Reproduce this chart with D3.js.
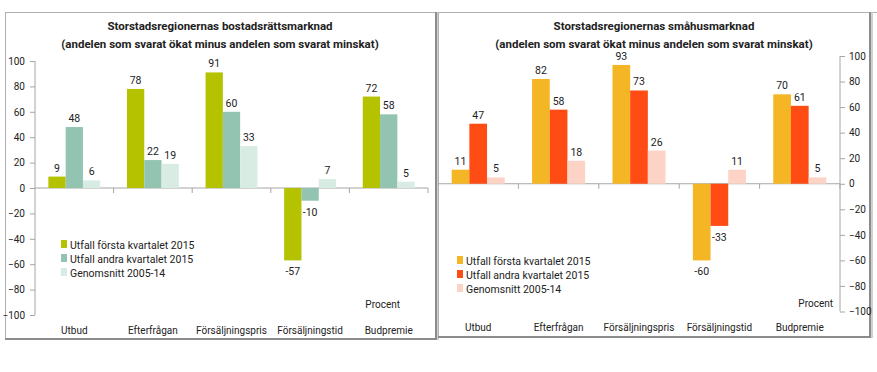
<!DOCTYPE html>
<meta charset="utf-8">
<style>
    body { margin: 0; background: #fff; }
    svg text { font-family: Roboto, "Open Sans", sans-serif; fill: #222; }
    .axis path, .axis line { stroke: #a6a6a6; }
    .axis text { font-size: 10px; fill: #222; }
</style>
<svg width="877" height="372"></svg>
<script src="https://cdn.jsdelivr.net/npm/d3@7"></script>
<script>

    var categories = ["Utbud", "Efterfrågan", "Försäljningspris", "Försäljningstid", "Budpremie"];
    var seriesNames = ["Utfall första kvartalet 2015", "Utfall andra kvartalet 2015", "Genomsnitt 2005-14"];

    // bostadsrätter
    var bostadQ1 = [9, 78, 91, -57, 72];
    var bostadQ2 = [48, 22, 60, -10, 58];
    var bostadAvg = [6, 19, 33, 7, 5];

    // småhus
    var smahusQ1 = [11, 82, 93, -60, 70];
    var smahusQ2 = [47, 58, 73, -33, 61];
    var smahusAvg = [5, 18, 26, 11, 5];

    var yTicks = [-100, -80, -60, -40, -20, 0, 20, 40, 60, 80, 100];

    var svg = d3.select("svg");

    // frame lines
    svg.append("line").attr("x1", 5).attr("x2", 877).attr("y1", 12.5).attr("y2", 12.5).attr("stroke", "#b0b0b0");
    function frame(x0, x1, y1) {
        svg.append("line").attr("x1", x0 + 0.5).attr("x2", x0 + 0.5).attr("y1", 12).attr("y2", y1).attr("stroke", "#b0b0b0");
        svg.append("line").attr("x1", x1).attr("x2", x1).attr("y1", 12).attr("y2", y1 + 1).attr("stroke", "#8c8c8c").attr("stroke-width", 2);
        svg.append("line").attr("x1", x1 + 2).attr("x2", x1 + 2).attr("y1", 12).attr("y2", y1 + 1).attr("stroke", "#d0d0d0").attr("stroke-width", 2);
        svg.append("line").attr("x1", x0).attr("x2", x1 + 1).attr("y1", y1).attr("y2", y1).attr("stroke", "#8c8c8c").attr("stroke-width", 2);
    }
    frame(5, 436, 339);
    frame(438, 870, 337);

    function panel(opt) {
        var g = svg.append("g");

        var y = d3.scaleLinear().domain([-100, 100]).range([opt.y0, opt.y1]);
        var x = d3.scaleBand().domain(categories).range([opt.x0, opt.x1]).paddingInner(0).paddingOuter(0);
        // three bars per group, about a sixth of the band free on each side
        var xs = d3.scaleBand().domain([0, 1, 2])
            .range([x.bandwidth() * 0.17, x.bandwidth() * 0.83]).paddingOuter(0).paddingInner(0);

        g.append("text").attr("x", opt.cx).attr("y", 30).attr("text-anchor", "middle")
            .style("font-size", "11.5px").style("font-weight", "bold").text(opt.title);
        g.append("text").attr("x", opt.cx).attr("y", 47.5).attr("text-anchor", "middle")
            .style("font-size", "11.5px").style("font-weight", "bold")
            .text("(andelen som svarat ökat minus andelen som svarat minskat)");

        // value axis
        var axis = opt.right ? d3.axisRight(y) : d3.axisLeft(y);
        axis.tickValues(yTicks).tickSize(5).tickPadding(opt.right ? 4 : 5);
        g.append("g").attr("class", "axis")
            .attr("transform", "translate(" + (opt.right ? opt.x1 : opt.x0) + ",0)")
            .call(axis)
            .call(function (a) { a.select(".domain").attr("d", "M0," + opt.y1 + "V" + opt.y0); });

        // zero line with category ticks
        var zero = g.append("g").attr("class", "axis");
        zero.append("line").attr("x1", opt.x0).attr("x2", opt.x1)
            .attr("y1", y(0)).attr("y2", y(0));
        zero.selectAll("line.ct").data(categories).enter().append("line").attr("class", "ct")
            .attr("x1", function (d) { return x(d) + x.bandwidth(); })
            .attr("x2", function (d) { return x(d) + x.bandwidth(); })
            .attr("y1", y(0)).attr("y2", y(0) + 5);

        // category labels
        g.selectAll("text.cat").data(categories).enter().append("text").attr("class", "cat")
            .attr("x", function (d) { return x(d) + x.bandwidth() / 2; })
            .attr("y", opt.catY)
            .attr("text-anchor", "middle").style("font-size", "10px")
            .text(function (d) { return d; });

        opt.series.forEach(function (vals, si) {
            var bars = g.append("g");
            bars.selectAll("rect").data(vals).enter().append("rect")
                .attr("x", function (d, i) { return x(categories[i]) + xs(si); })
                .attr("width", xs.bandwidth())
                .attr("y", function (d) { return y(Math.max(0, d)); })
                .attr("height", function (d) { return Math.abs(y(d) - y(0)); })
                .attr("fill", opt.colors[si]);
            bars.selectAll("text").data(vals).enter().append("text")
                .attr("x", function (d, i) { return x(categories[i]) + xs(si) + xs.bandwidth() / 2; })
                .attr("y", function (d) { return d >= 0 ? y(d) - 5 : y(d) + 15; })
                .attr("text-anchor", "middle").style("font-size", "10.5px")
                .text(function (d) { return d; });
        });

        // legend
        var leg = g.append("g").attr("transform", "translate(" + opt.legX + "," + opt.legY + ")");
        seriesNames.forEach(function (n, i) {
            leg.append("rect").attr("x", 0).attr("y", i * 14 - 5).attr("width", 6).attr("height", 8)
                .attr("fill", opt.colors[i]);
            leg.append("text").attr("x", 9).attr("y", i * 14 + 3.5).style("font-size", "10.5px").text(n);
        });

        g.append("text").attr("x", opt.procX).attr("y", opt.procY).attr("text-anchor", "end")
            .style("font-size", "10px").text("Procent");
    }

    panel({
        title: "Storstadsregionernas bostadsrättsmarknad",
        cx: 220, x0: 35, x1: 428, y0: 315, y1: 61, right: false,
        catY: 334, legX: 61, legY: 245, procX: 400, procY: 308,
        series: [bostadQ1, bostadQ2, bostadAvg],
        colors: ["#b5c200", "#93c4b2", "#d8ece4"]
    });

    panel({
        title: "Storstadsregionernas småhusmarknad",
        cx: 654, x0: 438, x1: 840, y0: 311.5, y1: 56, right: true,
        catY: 331, legX: 457, legY: 261, procX: 833, procY: 307,
        series: [smahusQ1, smahusQ2, smahusAvg],
        colors: ["#f5b625", "#ff4b14", "#fdd3c6"]
    });

</script>
